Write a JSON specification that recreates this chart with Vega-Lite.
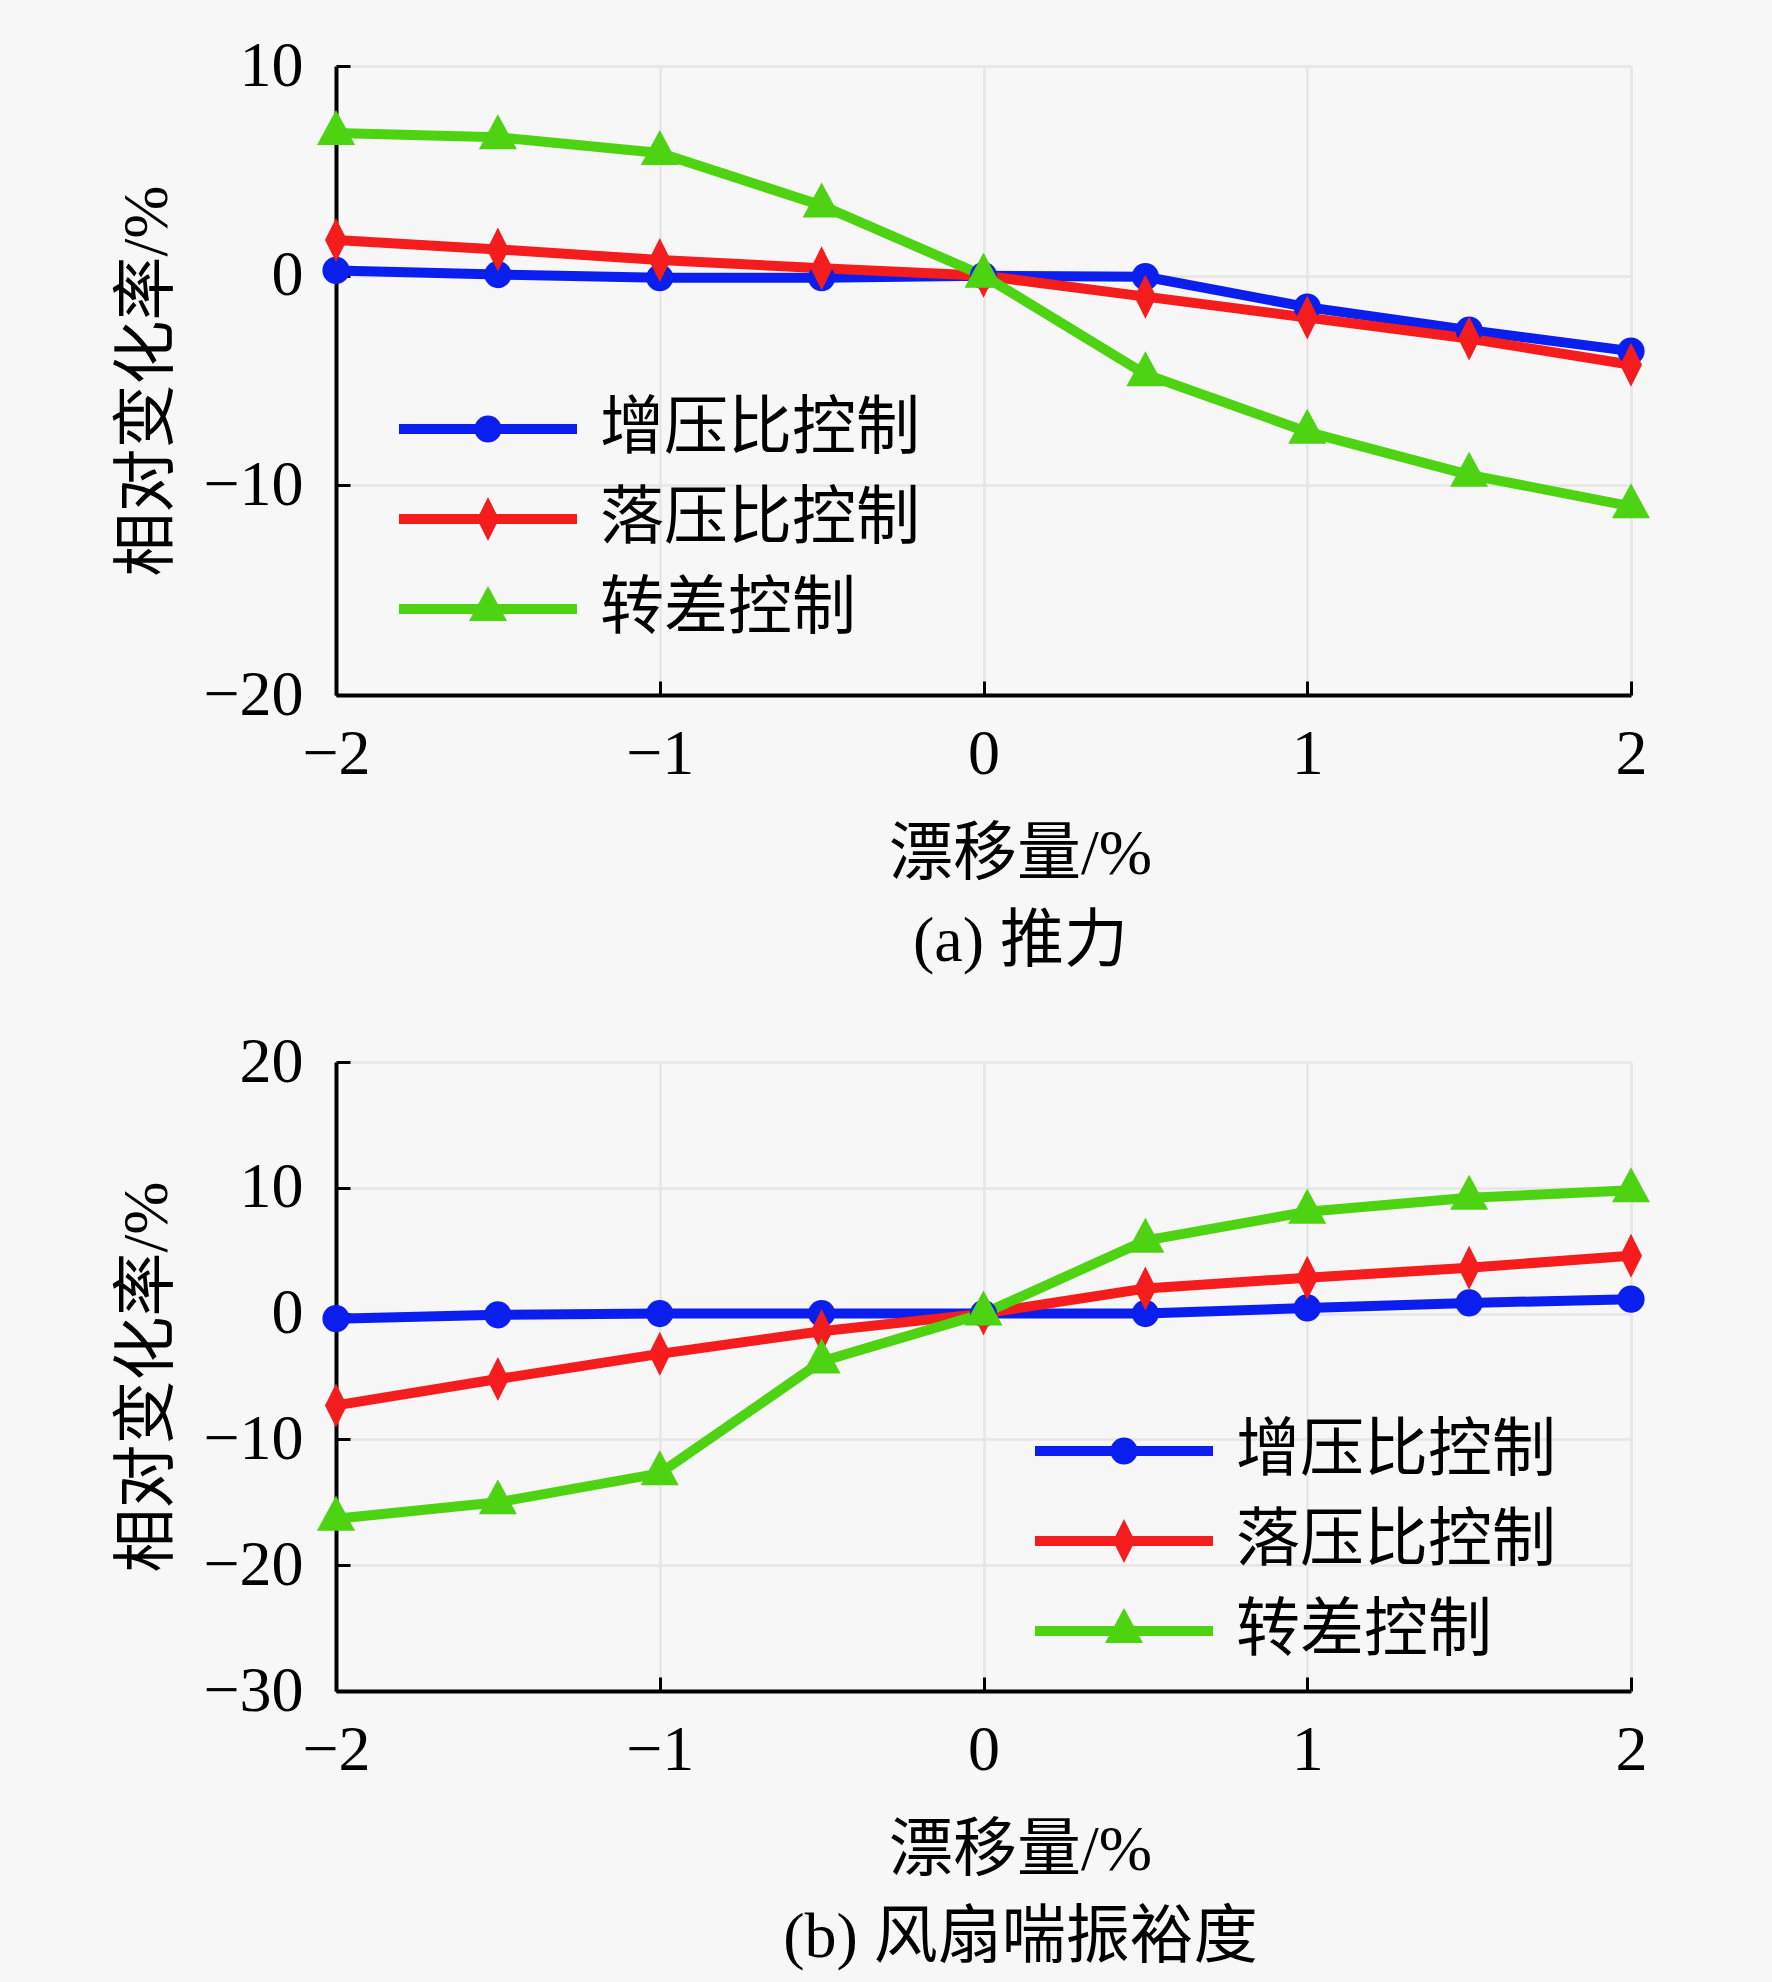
{
  "$schema": "https://vega.github.io/schema/vega-lite/v6.json",
  "background": "#f7f7f7",
  "padding": {"left": 115, "top": 34, "right": 124, "bottom": 24},
  "spacing": 56,
  "datasets": {
    "thrust": [
      {"x": -2, "y": 0.25, "s": "增压比控制"}, {"x": -1.5, "y": 0.05, "s": "增压比控制"}, {"x": -1, "y": -0.1, "s": "增压比控制"}, {"x": -0.5, "y": -0.1, "s": "增压比控制"}, {"x": 0, "y": 0, "s": "增压比控制"}, {"x": 0.5, "y": -0.05, "s": "增压比控制"}, {"x": 1, "y": -1.5, "s": "增压比控制"}, {"x": 1.5, "y": -2.6, "s": "增压比控制"}, {"x": 2, "y": -3.6, "s": "增压比控制"},
      {"x": -2, "y": 1.7, "s": "落压比控制"}, {"x": -1.5, "y": 1.25, "s": "落压比控制"}, {"x": -1, "y": 0.75, "s": "落压比控制"}, {"x": -0.5, "y": 0.35, "s": "落压比控制"}, {"x": 0, "y": 0, "s": "落压比控制"}, {"x": 0.5, "y": -1.0, "s": "落压比控制"}, {"x": 1, "y": -2.0, "s": "落压比控制"}, {"x": 1.5, "y": -3.0, "s": "落压比控制"}, {"x": 2, "y": -4.25, "s": "落压比控制"},
      {"x": -2, "y": 6.8, "s": "转差控制"}, {"x": -1.5, "y": 6.6, "s": "转差控制"}, {"x": -1, "y": 5.85, "s": "转差控制"}, {"x": -0.5, "y": 3.35, "s": "转差控制"}, {"x": 0, "y": 0, "s": "转差控制"}, {"x": 0.5, "y": -4.7, "s": "转差控制"}, {"x": 1, "y": -7.45, "s": "转差控制"}, {"x": 1.5, "y": -9.5, "s": "转差控制"}, {"x": 2, "y": -11.0, "s": "转差控制"}
    ],
    "surge": [
      {"x": -2, "y": -0.4, "s": "增压比控制"}, {"x": -1.5, "y": -0.1, "s": "增压比控制"}, {"x": -1, "y": 0, "s": "增压比控制"}, {"x": -0.5, "y": 0, "s": "增压比控制"}, {"x": 0, "y": 0, "s": "增压比控制"}, {"x": 0.5, "y": 0, "s": "增压比控制"}, {"x": 1, "y": 0.45, "s": "增压比控制"}, {"x": 1.5, "y": 0.85, "s": "增压比控制"}, {"x": 2, "y": 1.15, "s": "增压比控制"},
      {"x": -2, "y": -7.3, "s": "落压比控制"}, {"x": -1.5, "y": -5.2, "s": "落压比控制"}, {"x": -1, "y": -3.2, "s": "落压比控制"}, {"x": -0.5, "y": -1.4, "s": "落压比控制"}, {"x": 0, "y": 0, "s": "落压比控制"}, {"x": 0.5, "y": 2.0, "s": "落压比控制"}, {"x": 1, "y": 2.85, "s": "落压比控制"}, {"x": 1.5, "y": 3.65, "s": "落压比控制"}, {"x": 2, "y": 4.6, "s": "落压比控制"},
      {"x": -2, "y": -16.3, "s": "转差控制"}, {"x": -1.5, "y": -15.0, "s": "转差控制"}, {"x": -1, "y": -12.7, "s": "转差控制"}, {"x": -0.5, "y": -3.8, "s": "转差控制"}, {"x": 0, "y": 0, "s": "转差控制"}, {"x": 0.5, "y": 5.8, "s": "转差控制"}, {"x": 1, "y": 8.1, "s": "转差控制"}, {"x": 1.5, "y": 9.2, "s": "转差控制"}, {"x": 2, "y": 9.8, "s": "转差控制"}
    ]
  },
  "config": {
    "view": {"stroke": null},
    "axis": {
      "domainColor": "#000000", "domainWidth": 4, "tickColor": "#000000", "tickWidth": 3, "tickSize": -14,
      "gridColor": "#e6e6e6", "gridWidth": 2.5,
      "labelFont": "Liberation Serif", "labelFontSize": 64, "labelColor": "#000000", "labelFlush": false, "labelOverlap": false, "labelBound": false,
      "titleFont": "Liberation Serif, Noto Sans CJK SC", "titleFontSize": 64, "titleFontWeight": "normal", "titleColor": "#000000"
    },
    "axisX": {"labelPadding": 41, "titlePadding": 36},
    "axisY": {"labelPadding": 47, "titlePadding": 23},
    "title": {"font": "Liberation Serif, Noto Sans CJK SC", "fontSize": 64, "fontWeight": "normal", "color": "#000000"},
    "legend": {"symbolSize": 1600, "symbolStrokeWidth": 0, "symbolOpacity": 1, "padding": 0, "labelFont": "Noto Sans CJK SC", "labelFontSize": 64, "labelColor": "#000000", "labelLimit": 0}
  },
  "vconcat": [
    {
      "width": 1295, "height": 629,
      "data": {"name": "thrust"},
      "title": {"text": "(a) 推力", "orient": "bottom", "offset": 24, "dx": 37},
      "encoding": {
        "x": {"field": "x", "type": "quantitative", "scale": {"domain": [-2, 2]}, "axis": {"values": [-2, -1, 0, 1, 2], "title": "漂移量/%", "titleX": 684}},
        "y": {"field": "y", "type": "quantitative", "scale": {"domain": [-20, 10]}, "axis": {"values": [-20, -10, 0, 10], "title": "相对变化率/%"}}
      },
      "layer": [
        {"mark": {"type": "line", "strokeWidth": 10},
         "encoding": {"color": {"field": "s", "type": "nominal", "scale": {"domain": ["增压比控制", "落压比控制", "转差控制"], "range": ["#0a1eee", "#f41c1c", "#4dd312"]}, "legend": null}}},
        {"mark": {"type": "point", "filled": true, "size": 1600, "opacity": 1},
         "encoding": {
           "color": {"field": "s", "type": "nominal", "scale": {"domain": ["增压比控制", "落压比控制", "转差控制"], "range": ["#0a1eee", "#f41c1c", "#4dd312"]}, "legend": null},
           "shape": {"field": "s", "type": "nominal", "scale": {"domain": ["增压比控制", "落压比控制", "转差控制"], "range": ["M0.68,0A0.68,0.68,0,1,1,-0.68,0A0.68,0.68,0,1,1,0.68,0Z", "M0,-1.1L0.55,0L0,1.1L-0.55,0Z", "M0,-1.15L0.95,0.6L-0.95,0.6Z"]}, "legend": null}}},
        {"transform": [{"filter": "datum.x > 100"}],
         "mark": {"type": "point", "filled": true, "size": 1600, "opacity": 1},
         "encoding": {
           "color": {"field": "s", "type": "nominal", "scale": {"domain": ["增压比控制", "落压比控制", "转差控制"], "range": ["#0a1eee", "#f41c1c", "#4dd312"]},
             "legend": {"orient": "none", "legendX": 120, "legendY": 331, "title": null, "labelOffset": 80, "rowPadding": 26}},
           "shape": {"field": "s", "type": "nominal", "scale": {"domain": ["增压比控制", "落压比控制", "转差控制"], "range": ["M-4.45,-0.25L4.45,-0.25L4.45,0.25L-4.45,0.25Z M0.68,0A0.68,0.68,0,1,1,-0.68,0A0.68,0.68,0,1,1,0.68,0Z", "M-4.45,-0.25L4.45,-0.25L4.45,0.25L-4.45,0.25Z M0,-1.1L0.55,0L0,1.1L-0.55,0Z", "M-4.45,-0.25L4.45,-0.25L4.45,0.25L-4.45,0.25Z M0,-1.15L0.95,0.6L-0.95,0.6Z"]},
             "legend": {"orient": "none", "legendX": 120, "legendY": 331, "title": null, "labelOffset": 80, "rowPadding": 26}}}}
      ],
      "resolve": {"scale": {"color": "independent", "shape": "independent"}}
    },
    {
      "width": 1295, "height": 629,
      "data": {"name": "surge"},
      "title": {"text": "(b) 风扇喘振裕度", "orient": "bottom", "offset": 24, "dx": 37},
      "encoding": {
        "x": {"field": "x", "type": "quantitative", "scale": {"domain": [-2, 2]}, "axis": {"values": [-2, -1, 0, 1, 2], "title": "漂移量/%", "titleX": 684}},
        "y": {"field": "y", "type": "quantitative", "scale": {"domain": [-30, 20]}, "axis": {"values": [-30, -20, -10, 0, 10, 20], "title": "相对变化率/%"}}
      },
      "layer": [
        {"mark": {"type": "line", "strokeWidth": 10},
         "encoding": {"color": {"field": "s", "type": "nominal", "scale": {"domain": ["增压比控制", "落压比控制", "转差控制"], "range": ["#0a1eee", "#f41c1c", "#4dd312"]}, "legend": null}}},
        {"mark": {"type": "point", "filled": true, "size": 1600, "opacity": 1},
         "encoding": {
           "color": {"field": "s", "type": "nominal", "scale": {"domain": ["增压比控制", "落压比控制", "转差控制"], "range": ["#0a1eee", "#f41c1c", "#4dd312"]}, "legend": null},
           "shape": {"field": "s", "type": "nominal", "scale": {"domain": ["增压比控制", "落压比控制", "转差控制"], "range": ["M0.68,0A0.68,0.68,0,1,1,-0.68,0A0.68,0.68,0,1,1,0.68,0Z", "M0,-1.1L0.55,0L0,1.1L-0.55,0Z", "M0,-1.15L0.95,0.6L-0.95,0.6Z"]}, "legend": null}}},
        {"transform": [{"filter": "datum.x > 100"}],
         "mark": {"type": "point", "filled": true, "size": 1600, "opacity": 1},
         "encoding": {
           "color": {"field": "s", "type": "nominal", "scale": {"domain": ["增压比控制", "落压比控制", "转差控制"], "range": ["#0a1eee", "#f41c1c", "#4dd312"]},
             "legend": {"orient": "none", "legendX": 756, "legendY": 357, "title": null, "labelOffset": 80, "rowPadding": 26}},
           "shape": {"field": "s", "type": "nominal", "scale": {"domain": ["增压比控制", "落压比控制", "转差控制"], "range": ["M-4.45,-0.25L4.45,-0.25L4.45,0.25L-4.45,0.25Z M0.68,0A0.68,0.68,0,1,1,-0.68,0A0.68,0.68,0,1,1,0.68,0Z", "M-4.45,-0.25L4.45,-0.25L4.45,0.25L-4.45,0.25Z M0,-1.1L0.55,0L0,1.1L-0.55,0Z", "M-4.45,-0.25L4.45,-0.25L4.45,0.25L-4.45,0.25Z M0,-1.15L0.95,0.6L-0.95,0.6Z"]},
             "legend": {"orient": "none", "legendX": 756, "legendY": 357, "title": null, "labelOffset": 80, "rowPadding": 26}}}}
      ],
      "resolve": {"scale": {"color": "independent", "shape": "independent"}}
    }
  ],
  "resolve": {"scale": {"x": "independent", "y": "independent"}}
}
